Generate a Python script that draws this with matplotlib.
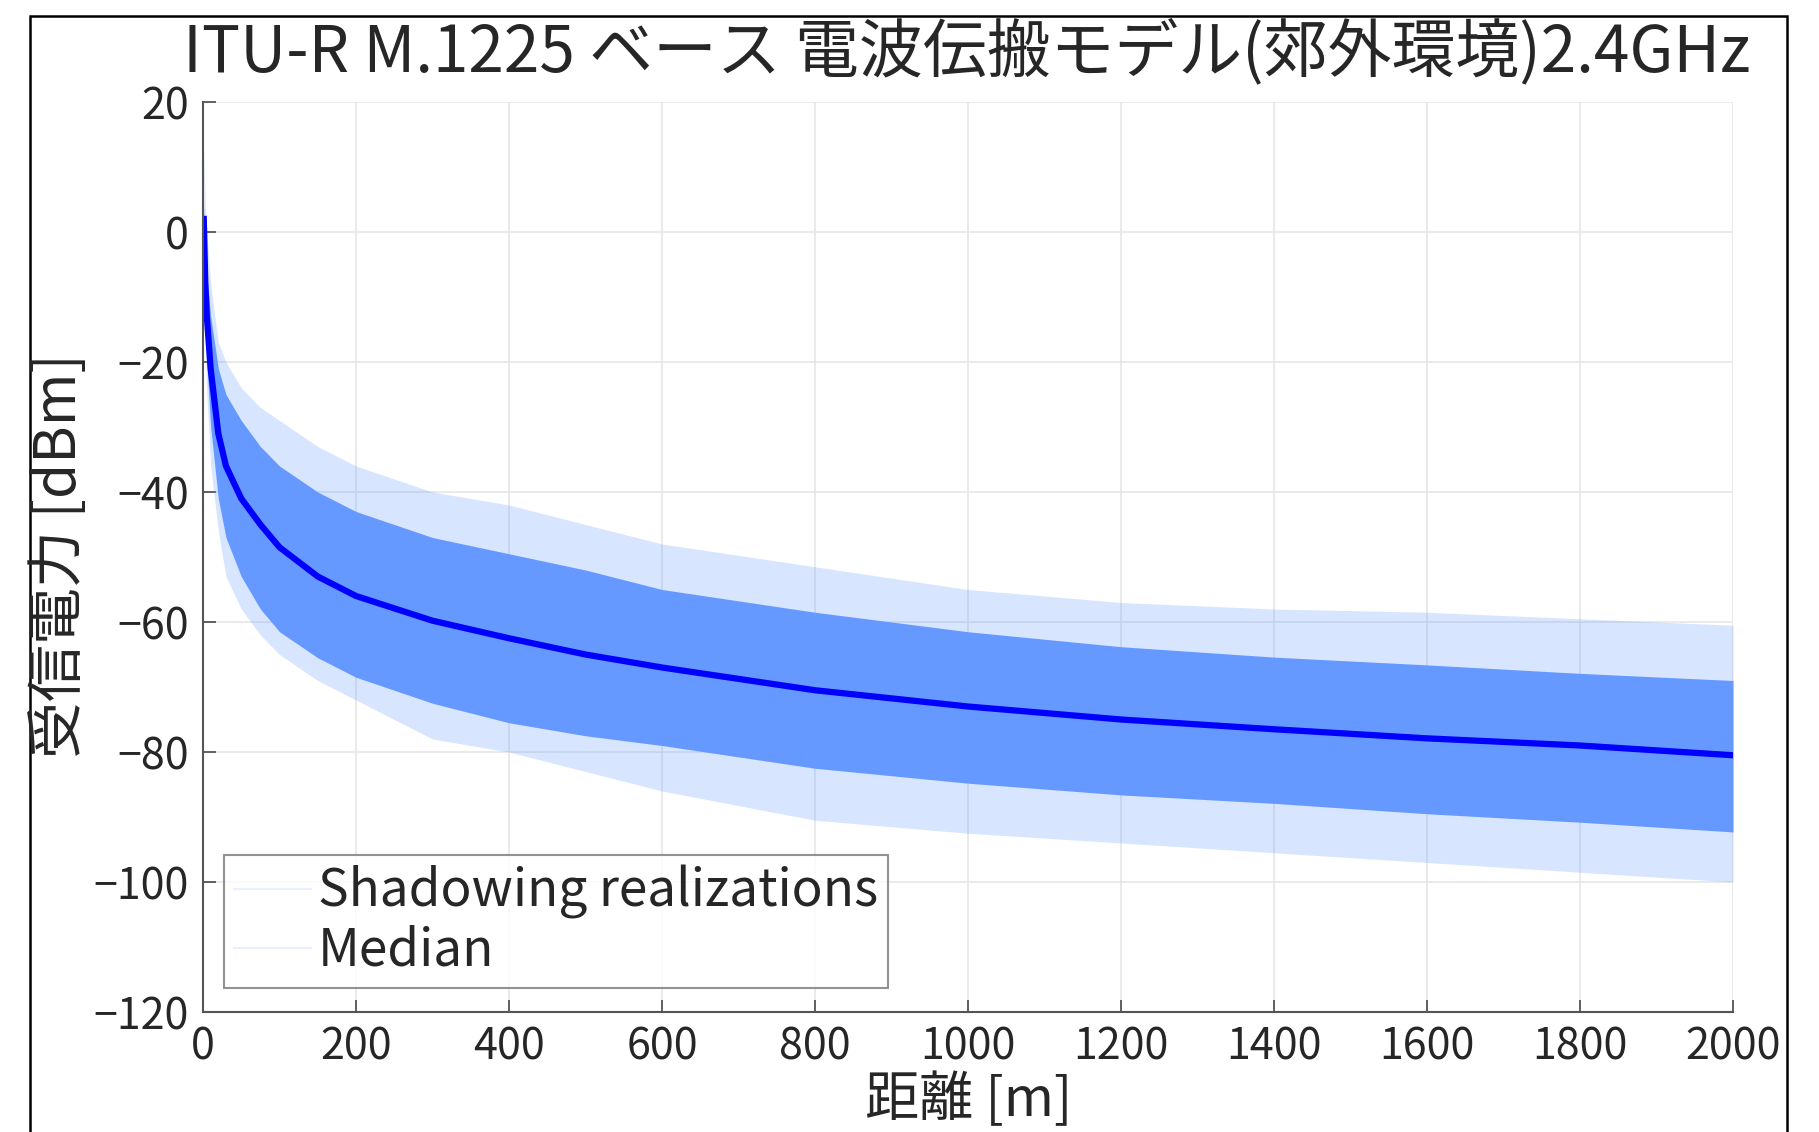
import matplotlib
matplotlib.use("Agg")
import matplotlib.pyplot as plt
from matplotlib.lines import Line2D
from matplotlib.patches import Rectangle

plt.rcParams["font.family"] = ["Noto Sans CJK JP", "DejaVu Sans"]
plt.rcParams["axes.unicode_minus"] = True

# Values
distance_m = [1, 3, 5, 10, 20, 30, 50, 75, 100, 150, 200, 300, 400, 500,
              600, 800, 1000, 1200, 1400, 1600, 1800, 2000]
median_dbm = [2, -8, -13, -21, -31, -36, -41, -45, -48.5, -53, -56, -59.8,
              -62.5, -65, -67, -70.5, -73, -75, -76.5, -77.9, -79, -80.5]
# dense part of the shadowing realizations
band_top = [4, -2, -6, -13, -21, -25, -29, -33, -36, -40, -43, -47, -49.5,
            -52, -55, -58.5, -61.5, -63.8, -65.4, -66.6, -67.9, -69]
band_bottom = [0, -14, -20, -30, -41, -47, -53, -58, -61.5, -65.5, -68.5,
               -72.5, -75.5, -77.5, -79, -82.5, -84.8, -86.6, -87.9, -89.5,
               -90.8, -92.3]
# faint spikes reaching outside the dense part
spike_top = [13, 4, 0, -8, -17, -20, -24, -27, -29, -33, -36, -40, -42, -45,
             -48, -51.5, -55, -57, -58, -58.5, -59.5, -60.5]
spike_bottom = [-2, -18, -25, -36, -46, -53, -58, -62, -65, -69, -72, -78,
                -80, -83, -86, -90.5, -92.5, -94, -95.5, -97, -98.5, -100]

x_ticks = list(range(0, 2001, 200))
y_ticks = list(range(-120, 21, 20))

TITLE = "ITU-R M.1225 ベース 電波伝搬モデル(郊外環境)2.4GHz"
BAND_COLOR = "#6699FF"
TEXT_COLOR = "#262626"

W, H = 1819, 1132
fig = plt.figure(figsize=(W / 100, H / 100), dpi=100)
ax = fig.add_axes([203 / W, 1 - 1012 / H, 1530 / W, 910 / H])

ax.fill_between(distance_m, spike_bottom, spike_top, color=BAND_COLOR,
                alpha=0.25, linewidth=0)
ax.fill_between(distance_m, band_bottom, band_top, color=BAND_COLOR,
                linewidth=0)
ax.plot(distance_m, median_dbm, color="#0000FF", linewidth=4.5)

ax.set_xlim(0, 2000)
ax.set_ylim(-120, 20)
ax.set_xticks(x_ticks)
ax.set_yticks(y_ticks)
ax.grid(True, color="#E6E6E6", linewidth=1.2)
ax.set_axisbelow(True)

for side in ["top", "right"]:
    ax.spines[side].set_visible(False)
for side in ["left", "bottom"]:
    ax.spines[side].set_color("#555555")
    ax.spines[side].set_linewidth(1.5)

ax.tick_params(direction="in", length=9, width=1.3, color="#555555",
               labelsize=31, labelcolor=TEXT_COLOR, pad=10)

fig.text(967 / W, 1 - 53 / H, TITLE, ha="center", va="center",
         fontsize=46, color=TEXT_COLOR)
fig.text(60 / W, 1 - 556 / H, "受信電力 [dBm]", ha="center", va="center",
         rotation=90, fontsize=41, color=TEXT_COLOR)
fig.text(969 / W, 1 - 1100 / H, "距離 [m]", ha="center", va="center",
         fontsize=39, color=TEXT_COLOR)

handles = [Line2D([], [], color=BAND_COLOR, alpha=0.15, linewidth=1.5),
           Line2D([], [], color=BAND_COLOR, alpha=0.15, linewidth=1.5)]
leg = ax.legend(handles, ["Shadowing realizations", "Median"],
                loc="lower left", bbox_to_anchor=(224 / W, 1 - 988 / H),
                bbox_transform=fig.transFigure, fontsize=37,
                frameon=True, fancybox=False, borderaxespad=0,
                borderpad=0.2, handlelength=1.5, handletextpad=0.12,
                labelspacing=0.1)
leg.get_frame().set_edgecolor("#777777")
leg.get_frame().set_linewidth(1.5)
for t in leg.get_texts():
    t.set_color(TEXT_COLOR)

# outer frame around the whole picture
fig.patches.append(Rectangle((30 / W, -0.05), 1757 / W, 1 - 16 / H + 0.05,
                             transform=fig.transFigure, fill=False,
                             edgecolor="black", linewidth=1.8))

fig.savefig("out.png", dpi=100)
